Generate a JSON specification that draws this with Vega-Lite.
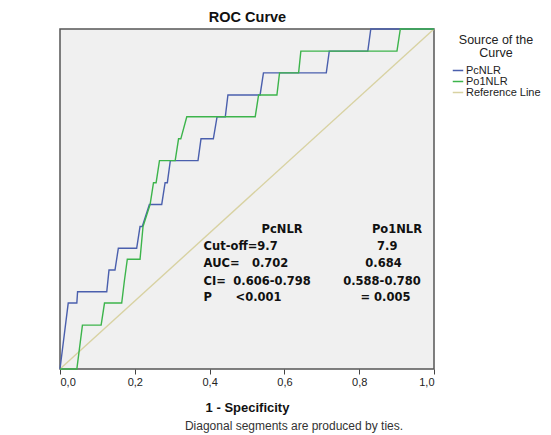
{
  "$schema": "https://vega.github.io/schema/vega-lite/v6.json",
  "width": 374,
  "height": 340,
  "autosize": "none",
  "padding": {"left": 60, "top": 29, "right": 117, "bottom": 66},
  "background": "white",
  "title": {
    "text": "Diagonal segments are produced by ties.",
    "orient": "bottom",
    "anchor": "middle",
    "frame": "group",
    "dx": 47,
    "offset": 7,
    "font": "Liberation Sans",
    "fontSize": 12,
    "fontWeight": "normal",
    "color": "#333"
  },
  "config": {
    "view": {"fill": "#f0f0f0", "stroke": "#555", "strokeWidth": 1.5},
    "axis": {
      "labelFont": "Liberation Sans",
      "labelFontSize": 11,
      "labelColor": "#222",
      "titleFont": "Liberation Sans",
      "titleFontSize": 13,
      "titleFontWeight": "bold",
      "titleColor": "#111",
      "tickColor": "#444",
      "tickSize": 5,
      "grid": false,
      "domain": false
    },
    "text": {"font": "DejaVu Sans", "fontSize": 11.5, "fontWeight": "bold", "color": "#111"}
  },
  "layer": [
    {
      "data": {
        "values": [
          {"series": "Reference Line", "i": 0, "fpr": 0, "tpr": 0},
          {"series": "Reference Line", "i": 1, "fpr": 1, "tpr": 1},
          {"series": "PcNLR", "i": 0, "fpr": 0, "tpr": 0},
          {"series": "PcNLR", "i": 1, "fpr": 0.022, "tpr": 0.194},
          {"series": "PcNLR", "i": 2, "fpr": 0.045, "tpr": 0.194},
          {"series": "PcNLR", "i": 3, "fpr": 0.047, "tpr": 0.227},
          {"series": "PcNLR", "i": 4, "fpr": 0.125, "tpr": 0.227},
          {"series": "PcNLR", "i": 5, "fpr": 0.131, "tpr": 0.291},
          {"series": "PcNLR", "i": 6, "fpr": 0.147, "tpr": 0.291},
          {"series": "PcNLR", "i": 7, "fpr": 0.156, "tpr": 0.355},
          {"series": "PcNLR", "i": 8, "fpr": 0.205, "tpr": 0.355},
          {"series": "PcNLR", "i": 9, "fpr": 0.214, "tpr": 0.419},
          {"series": "PcNLR", "i": 10, "fpr": 0.22, "tpr": 0.419},
          {"series": "PcNLR", "i": 11, "fpr": 0.239, "tpr": 0.484},
          {"series": "PcNLR", "i": 12, "fpr": 0.272, "tpr": 0.484},
          {"series": "PcNLR", "i": 13, "fpr": 0.281, "tpr": 0.548},
          {"series": "PcNLR", "i": 14, "fpr": 0.287, "tpr": 0.548},
          {"series": "PcNLR", "i": 15, "fpr": 0.295, "tpr": 0.613},
          {"series": "PcNLR", "i": 16, "fpr": 0.369, "tpr": 0.613},
          {"series": "PcNLR", "i": 17, "fpr": 0.377, "tpr": 0.677},
          {"series": "PcNLR", "i": 18, "fpr": 0.41, "tpr": 0.677},
          {"series": "PcNLR", "i": 19, "fpr": 0.42, "tpr": 0.742},
          {"series": "PcNLR", "i": 20, "fpr": 0.442, "tpr": 0.742},
          {"series": "PcNLR", "i": 21, "fpr": 0.449, "tpr": 0.806},
          {"series": "PcNLR", "i": 22, "fpr": 0.535, "tpr": 0.806},
          {"series": "PcNLR", "i": 23, "fpr": 0.544, "tpr": 0.871},
          {"series": "PcNLR", "i": 24, "fpr": 0.712, "tpr": 0.871},
          {"series": "PcNLR", "i": 25, "fpr": 0.72, "tpr": 0.935},
          {"series": "PcNLR", "i": 26, "fpr": 0.823, "tpr": 0.935},
          {"series": "PcNLR", "i": 27, "fpr": 0.831, "tpr": 1},
          {"series": "PcNLR", "i": 28, "fpr": 1, "tpr": 1},
          {"series": "Po1NLR", "i": 0, "fpr": 0, "tpr": 0},
          {"series": "Po1NLR", "i": 1, "fpr": 0.045, "tpr": 0},
          {"series": "Po1NLR", "i": 2, "fpr": 0.06, "tpr": 0.129},
          {"series": "Po1NLR", "i": 3, "fpr": 0.11, "tpr": 0.129},
          {"series": "Po1NLR", "i": 4, "fpr": 0.119, "tpr": 0.194},
          {"series": "Po1NLR", "i": 5, "fpr": 0.165, "tpr": 0.194},
          {"series": "Po1NLR", "i": 6, "fpr": 0.172, "tpr": 0.258},
          {"series": "Po1NLR", "i": 7, "fpr": 0.18, "tpr": 0.323},
          {"series": "Po1NLR", "i": 8, "fpr": 0.214, "tpr": 0.323},
          {"series": "Po1NLR", "i": 9, "fpr": 0.222, "tpr": 0.419},
          {"series": "Po1NLR", "i": 10, "fpr": 0.241, "tpr": 0.484},
          {"series": "Po1NLR", "i": 11, "fpr": 0.25, "tpr": 0.548},
          {"series": "Po1NLR", "i": 12, "fpr": 0.257, "tpr": 0.548},
          {"series": "Po1NLR", "i": 13, "fpr": 0.266, "tpr": 0.613},
          {"series": "Po1NLR", "i": 14, "fpr": 0.308, "tpr": 0.613},
          {"series": "Po1NLR", "i": 15, "fpr": 0.317, "tpr": 0.677},
          {"series": "Po1NLR", "i": 16, "fpr": 0.323, "tpr": 0.677},
          {"series": "Po1NLR", "i": 17, "fpr": 0.339, "tpr": 0.742},
          {"series": "Po1NLR", "i": 18, "fpr": 0.522, "tpr": 0.742},
          {"series": "Po1NLR", "i": 19, "fpr": 0.531, "tpr": 0.806},
          {"series": "Po1NLR", "i": 20, "fpr": 0.58, "tpr": 0.806},
          {"series": "Po1NLR", "i": 21, "fpr": 0.587, "tpr": 0.871},
          {"series": "Po1NLR", "i": 22, "fpr": 0.638, "tpr": 0.871},
          {"series": "Po1NLR", "i": 23, "fpr": 0.644, "tpr": 0.935},
          {"series": "Po1NLR", "i": 24, "fpr": 0.901, "tpr": 0.935},
          {"series": "Po1NLR", "i": 25, "fpr": 0.91, "tpr": 1},
          {"series": "Po1NLR", "i": 26, "fpr": 1, "tpr": 1}
        ]
      },
      "mark": {"type": "line", "strokeWidth": 1.4},
      "encoding": {
        "x": {
          "field": "fpr", "type": "quantitative",
          "scale": {"domain": [0, 1], "nice": false, "zero": false},
          "axis": {
            "orient": "bottom",
            "title": "1 - Specificity",
            "values": [0, 0.2, 0.4, 0.6, 0.8, 1],
            "labelExpr": "replace(format(datum.value, '.1f'), '.', ',')",
            "labelPadding": 2,
            "titlePadding": 14
          }
        },
        "y": {
          "field": "tpr", "type": "quantitative",
          "scale": {"domain": [0, 1], "nice": false, "zero": false},
          "axis": {
            "title": "Sensitivity",
            "values": [0, 0.2, 0.4, 0.6, 0.8, 1],
            "labelExpr": "replace(format(datum.value, '.1f'), '.', ',')",
            "labelPadding": 2,
            "titlePadding": 9
          }
        },
        "color": {
          "field": "series", "type": "nominal",
          "scale": {
            "domain": ["PcNLR", "Po1NLR", "Reference Line"],
            "range": ["#4a5fad", "#3cb44b", "#d8d2a2"]
          },
          "legend": {
            "title": ["Source of the", "Curve"],
            "orient": "none",
            "legendX": 392,
            "legendY": 5,
            "padding": 0,
            "titleFont": "Liberation Sans",
            "titleFontSize": 12.5,
            "titleFontWeight": "normal",
            "titleColor": "#222",
            "titleAnchor": "middle",
            "titleAlign": "center",
            "titleLineHeight": 13,
            "titlePadding": 5,
            "labelFont": "Liberation Sans",
            "labelFontSize": 11,
            "labelColor": "#222",
            "labelOffset": 2,
            "symbolType": "stroke",
            "symbolSize": 110,
            "symbolStrokeWidth": 1.5,
            "rowPadding": 0
          }
        },
        "order": {"field": "i", "type": "quantitative"}
      }
    },
    {
      "data": {
        "values": [
          {"label": "Cut-off=9.7", "x": 0.384, "y": 0.358},
          {"label": "AUC=", "x": 0.384, "y": 0.308},
          {"label": "CI=", "x": 0.384, "y": 0.256},
          {"label": "P", "x": 0.384, "y": 0.209}
        ]
      },
      "mark": {"type": "text", "align": "left", "baseline": "middle"},
      "encoding": {
        "x": {
          "field": "x", "type": "quantitative",
          "axis": {"orient": "top", "title": "ROC Curve", "labels": false, "ticks": false, "domain": false, "titleFontSize": 14.5, "titlePadding": 5, "titleFont": "Liberation Sans"}
        },
        "y": {"field": "y", "type": "quantitative", "axis": null},
        "text": {"field": "label"}
      }
    },
    {
      "data": {
        "values": [
          {"label": "PcNLR", "x": 0.594, "y": 0.409},
          {"label": "Po1NLR", "x": 0.901, "y": 0.409},
          {"label": "0.702", "x": 0.562, "y": 0.308},
          {"label": "0.606-0.798", "x": 0.567, "y": 0.256},
          {"label": "<0.001", "x": 0.531, "y": 0.209},
          {"label": "7.9", "x": 0.875, "y": 0.358},
          {"label": "0.684", "x": 0.865, "y": 0.308},
          {"label": "0.588-0.780", "x": 0.861, "y": 0.256},
          {"label": "= 0.005", "x": 0.87, "y": 0.209}
        ]
      },
      "mark": {"type": "text", "align": "center", "baseline": "middle"},
      "encoding": {
        "x": {"field": "x", "type": "quantitative", "axis": null},
        "y": {"field": "y", "type": "quantitative", "axis": null},
        "text": {"field": "label"}
      }
    }
  ]
}
